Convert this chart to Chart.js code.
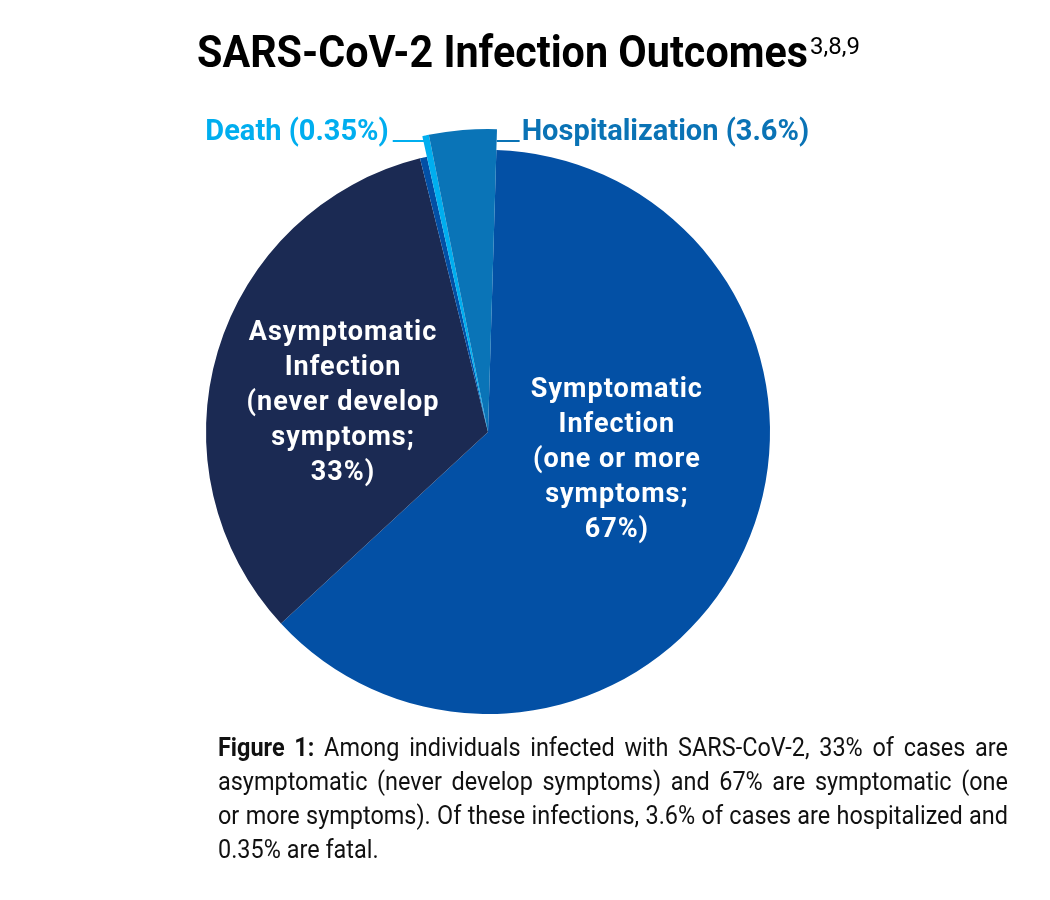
<!DOCTYPE html>
<html>
<head>
<meta charset="utf-8">
<script src="https://cdn.jsdelivr.net/npm/chart.js@4.4.1/dist/chart.umd.min.js"></script>
<style>
  html, body { margin: 0; padding: 0; background: #fff; }
  body { width: 1050px; height: 900px; position: relative; overflow: hidden; font-family: Roboto, sans-serif; color: #000; }
  #pie { position: absolute; left: 0; top: 0; }
  #title { position: absolute; left: 197px; top: 29px; font-size: 45px; line-height: 1; font-weight: 700; white-space: nowrap; transform-origin: left top; }
  #refs { position: absolute; left: 810px; top: 34px; font-size: 24px; line-height: 1; white-space: nowrap; }
  #caption { position: absolute; left: 218px; top: 730px; font-size: 26px; line-height: 34px; color: #111; transform-origin: left top; }
  #caption div { white-space: nowrap; text-align: justify; text-align-last: justify; }
  #caption div.last { text-align-last: left; }
</style>
</head>
<body>
<canvas id="pie" width="1050" height="900"></canvas>
<div id="title">SARS-CoV-2 Infection Outcomes</div>
<div id="refs">3,8,9</div>
<div id="caption"></div>

<script>
/*
    Data
*/
const sliceLabels = ['Symptomatic Infection', 'Asymptomatic Infection', 'Symptomatic (other)', 'Death', 'Hospitalization'];
const sliceValues = [62.65, 33, 0.4, 0.35, 3.6];

const symptomaticText = ['Symptomatic', 'Infection', '(one or more', 'symptoms;', '67%)'];
const asymptomaticText = ['Asymptomatic', 'Infection', '(never develop', 'symptoms;', '33%)'];
const deathText = 'Death (0.35%)';
const hospText = 'Hospitalization (3.6%)';

const captionLines = [
    '<b>Figure 1:</b> Among individuals infected with SARS-CoV-2, 33% of cases are',
    'asymptomatic (never develop symptoms) and 67% are symptomatic (one',
    'or more symptoms). Of these infections, 3.6% of cases are hospitalized and',
    '0.35% are fatal.'
];

/*
    Title + caption fitting (the source uses a condensed face)
*/
const title = document.getElementById('title');
title.style.transform = 'scaleX(' + (611 / title.offsetWidth) + ')';

const cap = document.getElementById('caption');
let widest = 0;
captionLines.forEach((txt, i) => {
    const probe = document.createElement('span');
    probe.style.whiteSpace = 'nowrap';
    probe.innerHTML = txt;
    cap.appendChild(probe);
    widest = Math.max(widest, probe.offsetWidth);
    cap.removeChild(probe);
});
const capScale = Math.min(1, 790 / (widest + 6));
cap.style.width = (790 / capScale) + 'px';
cap.style.transform = 'scaleX(' + capScale + ')';
captionLines.forEach((txt, i) => {
    const d = document.createElement('div');
    d.innerHTML = txt;
    if (i === captionLines.length - 1) d.className = 'last';
    cap.appendChild(d);
});

/*
    Pie labels / pulled-out slices
*/
const pieLabels = {
    id: 'pieLabels',
    afterDatasetsUpdate(chart) {
        const arcs = chart.getDatasetMeta(0).data;
        // death + hospitalization stick out past the rim
        [3, 4].forEach(i => { arcs[i].outerRadius += 21; });
    },
    afterDatasetsDraw(chart) {
        const ctx = chart.ctx;
        const arcs = chart.getDatasetMeta(0).data;
        const cx = arcs[0].x, cy = arcs[0].y, r = arcs[0].outerRadius;

        ctx.save();
        ctx.fillStyle = '#fff';
        ctx.textAlign = 'center';
        ctx.textBaseline = 'middle';
        ctx.font = 'bold 27px Roboto';
        ctx.letterSpacing = '1px';
        const block = (lines, bx, by) => {
            const top = by - (lines.length - 1) * 35 / 2;
            lines.forEach((l, i) => ctx.fillText(l, bx, top + i * 35));
        };
        block(symptomaticText, cx + 0.457 * r, cy + 0.099 * r);
        block(asymptomaticText, cx - 0.514 * r, cy - 0.101 * r);

        // leader lines at the top
        const ly = cy - r - 9;
        const rayX = (ang) => cx + (ly - cy) * Math.cos(ang) / Math.sin(ang);
        const deathX = rayX((arcs[3].startAngle + arcs[3].endAngle) / 2);
        const hospX = rayX(arcs[4].endAngle);

        ctx.letterSpacing = '0px';
        ctx.font = 'bold 29px Roboto';
        ctx.textBaseline = 'alphabetic';
        ctx.lineWidth = 2;

        ctx.strokeStyle = '#00AEEF';
        ctx.beginPath();
        ctx.moveTo(deathX - 34, ly);
        ctx.lineTo(deathX, ly);
        ctx.stroke();
        ctx.fillStyle = '#00AEEF';
        ctx.textAlign = 'right';
        ctx.fillText(deathText, deathX - 38, ly - 1);

        ctx.strokeStyle = '#0A73B5';
        ctx.beginPath();
        ctx.moveTo(hospX, ly);
        ctx.lineTo(hospX + 23, ly);
        ctx.stroke();
        ctx.fillStyle = '#0A73B5';
        ctx.textAlign = 'left';
        ctx.fillText(hospText, hospX + 25, ly - 1);
        ctx.restore();
    }
};

const ctx = document.getElementById('pie').getContext('2d');
const pieChart = new Chart(ctx, {
    type: 'pie',
    data: {
        labels: sliceLabels,
        datasets: [{
            data: sliceValues,
            backgroundColor: ['#0350A5', '#1B2A53', '#0350A5', '#00AEEF', '#0A74B7'],
            borderWidth: 0,
            clip: false
        }]
    },
    options: {
        animation: false,
        responsive: false,
        devicePixelRatio: 1,
        rotation: 1.7, // first slice starts just right of 12 o'clock
        layout: {
            padding: { left: 206, right: 280, top: 150, bottom: 186 }
        },
        plugins: {
            legend: { display: false },
            tooltip: { enabled: false }
        }
    },
    plugins: [pieLabels]
});
</script>
</body>
</html>
